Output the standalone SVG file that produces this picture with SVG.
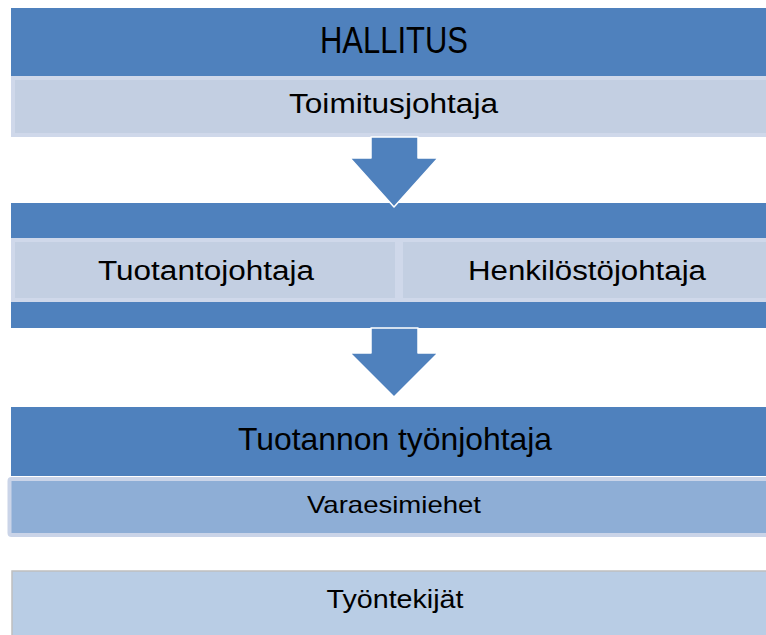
<svg xmlns="http://www.w3.org/2000/svg" width="766" height="635" viewBox="0 0 766 635">
  <style>
    .bar { fill: #4f81bd; }
    .sub { fill: #c3cfe2; stroke: #cfd8ea; stroke-width: 4; }
    .deputy { fill: #8eaed6; stroke: #cad4e8; stroke-width: 4; }
    .staff { fill: #b9cde5; stroke: #bfbfbf; stroke-width: 1.5; }
    .arrow { fill: #4f81bd; stroke: #ffffff; stroke-width: 1.5; stroke-linejoin: round; }
    text { font-family: "Liberation Sans", Arial, sans-serif; fill: #000000; text-anchor: middle; }
  </style>
  <rect width="766" height="635" fill="#ffffff"/>

  <!-- Board and CEO -->
  <g id="hallitus">
    <rect class="bar" x="11" y="8" width="770" height="68"/>
    <text x="394" y="53" font-size="36" textLength="148" lengthAdjust="spacingAndGlyphs">HALLITUS</text>
  </g>
  <g id="toimitusjohtaja">
    <rect class="sub" x="13" y="78" width="780" height="57"/>
    <text x="393.5" y="113" font-size="27" textLength="209" lengthAdjust="spacingAndGlyphs">Toimitusjohtaja</text>
  </g>

  <!-- Directors -->
  <g id="johto">
    <rect class="bar" x="11" y="203" width="770" height="125"/>
  </g>
  <g id="tuotantojohtaja">
    <rect class="sub" x="13" y="240" width="384" height="60"/>
    <text x="206" y="280" font-size="27" textLength="216" lengthAdjust="spacingAndGlyphs">Tuotantojohtaja</text>
  </g>
  <g id="henkilostojohtaja">
    <rect class="sub" x="401" y="240" width="380" height="60"/>
    <text x="587" y="280" font-size="27" textLength="238" lengthAdjust="spacingAndGlyphs">Henkilöstöjohtaja</text>
  </g>

  <!-- Production supervision -->
  <g id="tyonjohtaja">
    <rect class="bar" x="11" y="407" width="770" height="69"/>
    <text x="395" y="450" font-size="32" textLength="314" lengthAdjust="spacingAndGlyphs">Tuotannon työnjohtaja</text>
  </g>
  <g id="varaesimiehet">
    <rect class="deputy" x="9.5" y="479" width="790" height="56" rx="2"/>
    <text x="394" y="513" font-size="24" textLength="174" lengthAdjust="spacingAndGlyphs">Varaesimiehet</text>
  </g>

  <!-- Workers -->
  <g id="tyontekijat">
    <rect class="staff" x="12" y="571" width="790" height="80"/>
    <text x="395" y="608" font-size="26" textLength="137" lengthAdjust="spacingAndGlyphs">Työntekijät</text>
  </g>

  <!-- Connectors -->
  <g id="connectors">
    <polygon class="arrow" points="371,137 418,137 418,158 438,158 394,207 350,158 371,158"/>
    <polygon class="arrow" points="371,328 418,328 418,353 438,353 394,397 350,353 371,353"/>
  </g>
</svg>
